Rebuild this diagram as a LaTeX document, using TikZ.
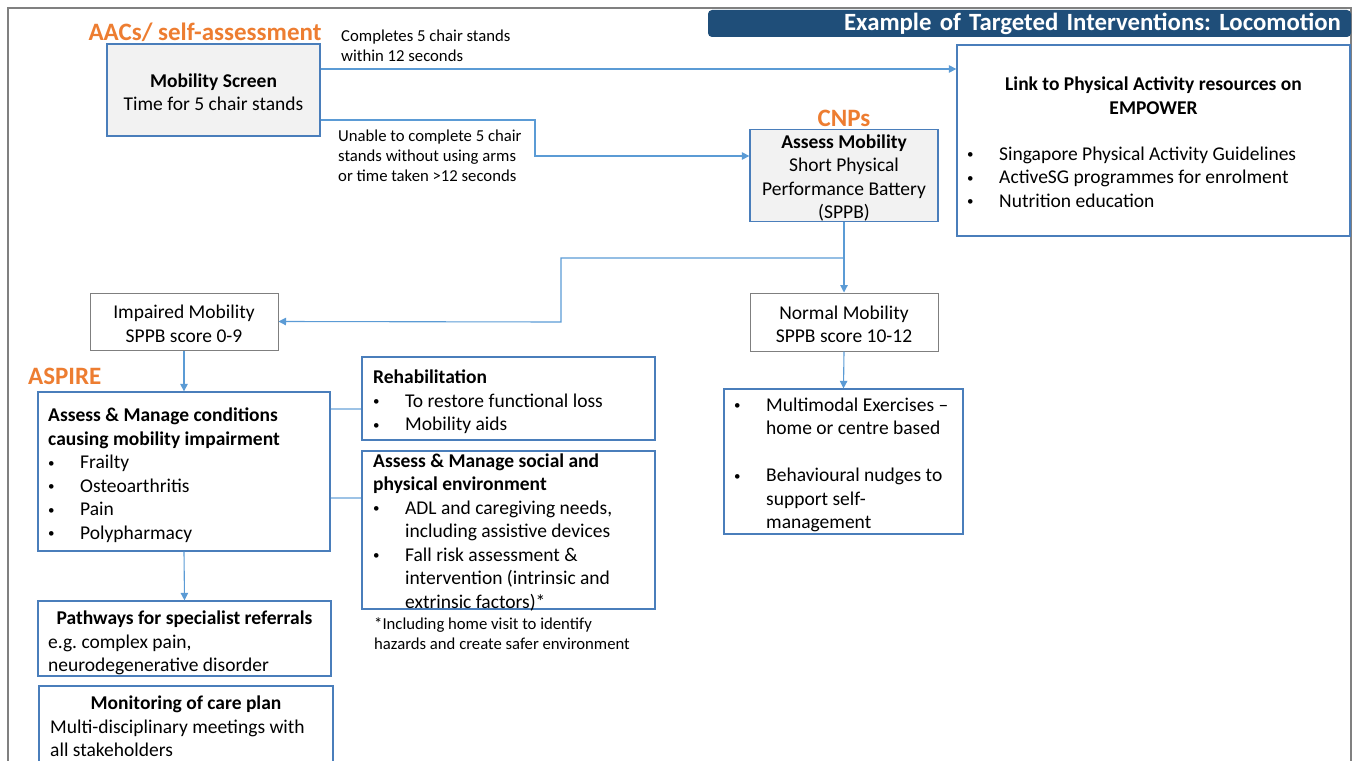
\documentclass[tikz,border=0pt]{standalone}
\usepackage{fontspec}
\setmainfont{Carlito}
\newfontfamily\titlefont{Carlito}[WordSpace=0.8]
\usetikzlibrary{arrows.meta}
\frenchspacing

\definecolor{boxblue}{HTML}{4A7EBB}
\definecolor{boxgray}{HTML}{7F7F7F}
\definecolor{arrowblue}{HTML}{5B9BD5}
\definecolor{linkblue}{HTML}{9DC3E6}
\definecolor{fillgray}{HTML}{F2F2F2}
\definecolor{headorange}{HTML}{ED7D31}
\definecolor{barblue}{HTML}{1F4E79}
\definecolor{framegray}{HTML}{808080}

\newcommand\bodyfont{\fontsize{19.5}{23.5}\selectfont\frenchspacing}
\newcommand\notefont{\fontsize{16.7}{20}\selectfont\frenchspacing}
\newcommand\stagefont{\fontsize{25}{30}\selectfont\bfseries}
\newlength\bulw
\setlength\bulw{32pt}
% small list bullet followed by the item text at a fixed indent
\newcommand\itm[1]{\makebox[\bulw][l]{\raisebox{1.6pt}{\fontsize{13}{13}\selectfont\textbullet}}#1}
\newcommand\cont[1]{\hspace*{\bulw}#1}
% extra room above the first line of centred box texts
\newcommand\lift{\rule{0pt}{18.5pt}}

\tikzset{
  x=1pt, y=-1pt,
  box/.style={draw=boxblue, line width=1.3pt, inner sep=0pt, align=center, font=\bodyfont},
  graybox/.style={box, draw=boxgray, line width=1pt},
  shaded/.style={fill=fillgray},
  txt/.style={inner sep=0pt, anchor=north west, align=left, font=\bodyfont},
  ctxt/.style={inner sep=0pt, anchor=north, align=center, font=\bodyfont\bfseries},
  note/.style={inner sep=0pt, anchor=north west, align=left, font=\notefont},
  stage/.style={inner sep=0pt, text=headorange, font=\stagefont},
  arr/.style={draw=arrowblue, line width=1.1pt, -{Triangle[length=7.5pt,width=7.5pt]}},
  tie/.style={draw=linkblue, line width=1.1pt},
}

\begin{document}
\begin{tikzpicture}
\useasboundingbox (0,0) rectangle (1359,760);

% slide frame
\draw[framegray, line width=1.5pt] (8,8) rectangle (1351,800);

% title bar
\node[fill=barblue, rounded corners=4pt, minimum width=643pt, minimum height=27pt,
      text width=623pt, inner xsep=10pt, inner ysep=0pt, align=right, text=white,
      font=\titlefont\fontsize{24.8}{28}\selectfont\bfseries] (title) at (1029.5,23.5)
  {Example of Targeted Interventions: Locomotion};

% stage headings
\node[stage, anchor=base] (aacs) at (205,40.5) {AACs/ self-assessment};
\node[stage, anchor=base] (cnps) at (844,126.5) {CNPs};
\node[stage, anchor=base west] (aspire) at (28,384.5) {ASPIRE};

% boxes
\node[box, shaded, minimum width=213pt, minimum height=92pt] (ms) at (213.5,90)
  {\lift{\bfseries Mobility Screen}\\Time for 5 chair stands};
\node[box, minimum width=393pt, minimum height=191pt] (link) at (1153.5,140.5) {};
\node[box, shaded, minimum width=188pt, minimum height=91pt] (am) at (844,175.5)
  {\lift{\bfseries Assess Mobility}\\Short Physical\\Performance Battery\\(SPPB)};
\node[graybox, minimum width=188pt, minimum height=57pt] (im) at (184,321.5)
  {\lift Impaired Mobility\\SPPB score 0-9};
\node[graybox, minimum width=188pt, minimum height=58pt] (nm) at (844,322)
  {\lift Normal Mobility\\SPPB score 10-12};
\node[box, minimum width=292pt, minimum height=159pt] (ac) at (184,471.5) {};
\node[box, minimum width=293pt, minimum height=83pt] (rh) at (508.5,398.5) {};
\node[box, minimum width=293pt, minimum height=158pt] (sc) at (508.5,530) {};
\node[box, minimum width=239pt, minimum height=145pt] (mm) at (843.5,461.5) {};
\node[box, minimum width=293pt, minimum height=75pt] (pw) at (184.5,638.5) {};
\node[box, minimum width=294pt, minimum height=82pt] (mo) at (186,727) {};

% box texts
\node[ctxt] (linkhead) at (1153.5,74)
  {\strut Link to Physical Activity resources on\\EMPOWER};
\node[txt] (linklist) at (967,143.5)
  {\strut\itm{Singapore Physical Activity Guidelines}\\
   \itm{ActiveSG programmes for enrolment}\\
   \itm{Nutrition education}};
\node[txt] (actext) at (48,405)
  {\strut{\bfseries Assess \& Manage conditions}\\
   {\bfseries causing mobility impairment}\\
   \itm{Frailty}\\
   \itm{Osteoarthritis}\\
   \itm{Pain}\\
   \itm{Polypharmacy}};
\node[txt] (rhtext) at (373,367)
  {\strut{\bfseries Rehabilitation}\\
   \itm{To restore functional loss}\\
   \itm{Mobility aids}};
\node[txt] (sctext) at (373,450.5)
  {\strut{\bfseries Assess \& Manage social and}\\
   {\bfseries physical environment}\\
   \itm{ADL and caregiving needs,}\\
   \cont{including assistive devices}\\
   \itm{Fall risk assessment \&}\\
   \cont{intervention (intrinsic and}\\
   \cont{extrinsic factors)*}};
\node[txt] (mmtext) at (734,394.5)
  {\strut\itm{Multimodal Exercises –}\\
   \cont{home or centre based}\\[23.5pt]
   \itm{Behavioural nudges to}\\
   \cont{support self-}\\
   \cont{management}};
\node[ctxt] (pwhead) at (184.5,608) {\strut Pathways for specialist referrals};
\node[txt] (pwtext) at (48,631.5)
  {\strut e.g. complex pain,\\neurodegenerative disorder};
\node[ctxt] (mohead) at (186,693) {\strut Monitoring of care plan};
\node[txt] (motext) at (50,716.5)
  {\strut Multi-disciplinary meetings with\\all stakeholders};

% notes
\node[note] (scnote) at (374,615)
  {\strut*Including home visit to identify\\hazards and create safer environment};
\node[note] (passlbl) at (341,27)
  {\strut Completes 5 chair stands\\within 12 seconds};
\node[note] (faillbl) at (338,127)
  {\strut Unable to complete 5 chair\\stands without using arms\\or time taken >12 seconds};

% connectors
\draw[arr] (ms.east |- 0,69) -- (link.west |- 0,69);
\draw[arr] (ms.east |- 0,120) -- (535,120) -- (535,156) -- (am.west |- 0,156);
\draw[arr] (am.south) -- (nm.north);
\draw[arr] (am.south |- 0,258) -- (561,258) -- (561,322) -- (im.east);
\draw[arr] (im.south) -- (ac.north);
\draw[tie] (ac.east |- 0,409) -- (rh.west |- 0,409);
\draw[tie] (ac.east |- 0,498) -- (sc.west |- 0,498);
\draw[arr] (ac.south) -- (pw.north);
\draw[arr] (nm.south) -- (mm.north);
\end{tikzpicture}
\end{document}
